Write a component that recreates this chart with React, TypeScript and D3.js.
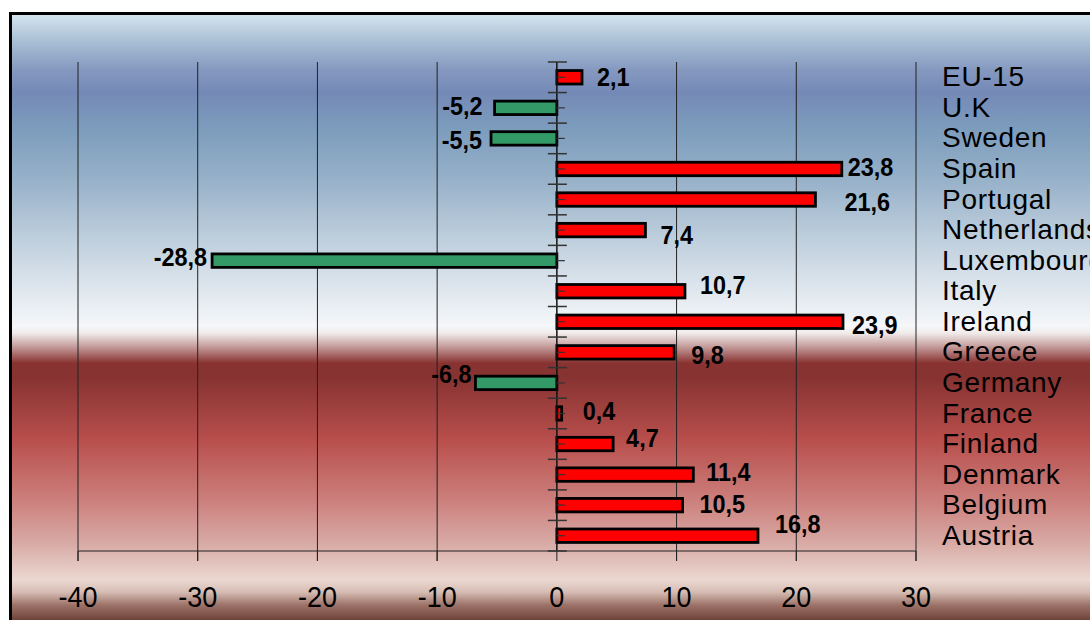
import React from "react";
import * as d3 from "d3";

// Change by country (%), EU-15 and member states
const categories = [
  "EU-15", "U.K", "Sweden", "Spain", "Portugal", "Netherlands", "Luxembourg", "Italy",
  "Ireland", "Greece", "Germany", "France", "Finland", "Denmark", "Belgium", "Austria",
];
const values = [2.1, -5.2, -5.5, 23.8, 21.6, 7.4, -28.8, 10.7, 23.9, 9.8, -6.8, 0.4, 4.7, 11.4, 10.5, 16.8];
const xTicks = [-40, -30, -20, -10, 0, 10, 20, 30];
// hand-placed offsets (px) for the value labels, relative to the bar end / row centre
const labelNudge: [number, number][] = [
  [15, -1], [-12, -2], [-9, 1], [6, -2], [29, 2], [15, 5], [-5, -4], [15, -7],
  [9, 3], [17, 2], [-4, -9], [21, -3], [13, -6], [13, -3], [17, -2], [17, -12],
];

const W = 1090;
const H = 620;
const FONT = "'Liberation Sans', Arial, sans-serif";

const bgStops: [number, string][] = [
  [14, "#d6e5ef"], [40, "#aac1d6"], [70, "#8599c0"], [92, "#7489b6"], [130, "#7d9dbd"],
  [180, "#97b1c9"], [240, "#bfcfdd"], [290, "#dfe7ee"], [326, "#f5f7f9"], [333, "#f1ebeb"],
  [347, "#c39a99"], [363, "#883331"], [378, "#873332"], [440, "#b84f4c"], [500, "#cc7f7c"],
  [545, "#d9aca7"], [580, "#ebd8d1"], [592, "#d6bdb4"], [605, "#9d7369"], [620, "#6e433a"],
];

export default function App() {
  const x = d3.scaleLinear().domain([-40, 30]).range([78, 916]);
  const y = d3.scaleBand<string>().domain(categories).range([62, 551]).paddingInner(0).paddingOuter(0);
  const bw = y.bandwidth();
  const barH = bw * 0.44;
  const fmt = (v: number) => d3.format(".1f")(v).replace(".", ",").replace("\u2212", "-");
  const x0 = x(0);
  const top = y.range()[0];
  const bottom = y.range()[1];
  const boundaries = d3.range(categories.length + 1).map((i) => top + i * bw);

  return (
    <svg
      width={W}
      height={H}
      style={{ position: "fixed", left: 0, top: 0, background: "#fff" }}
      fontFamily={FONT}
    >
      <defs>
        <linearGradient id="bg" gradientUnits="userSpaceOnUse" x1={0} y1={14} x2={0} y2={620}>
          {bgStops.map(([p, c], i) => (
            <stop key={i} offset={(p - 14) / (620 - 14)} stopColor={c} />
          ))}
        </linearGradient>
      </defs>
      <rect x={10.5} y={13.5} width={1200} height={700} fill="url(#bg)" stroke="#000" strokeWidth={3} />

      {/* vertical gridlines */}
      {xTicks.filter((t) => t !== 0).map((t) => (
        <line key={t} x1={x(t)} x2={x(t)} y1={top} y2={bottom + 10} stroke="#222" strokeWidth={1} />
      ))}
      {/* value axis */}
      <line x1={x(-40)} x2={x(30)} y1={bottom} y2={bottom} stroke="#222" strokeWidth={1.2} />
      {xTicks.map((t) => (
        <line key={t} x1={x(t)} x2={x(t)} y1={bottom} y2={bottom + 10} stroke="#222" strokeWidth={1} />
      ))}
      {xTicks.map((t) => (
        <text
          key={t}
          transform={`translate(${x(t)},607) scale(0.9,1)`}
          textAnchor="middle"
          fontSize={30}
          fill="#000"
        >
          {t}
        </text>
      ))}

      {/* bars */}
      {categories.map((c, i) => {
        const v = values[i];
        const cy = (y(c) as number) + bw / 2;
        return (
          <rect
            key={c}
            x={Math.min(x(v), x0)}
            y={cy - barH / 2}
            width={Math.abs(x(v) - x0)}
            height={barH}
            fill={v >= 0 ? "#ff0000" : "#339966"}
            stroke="#000"
            strokeWidth={2.8}
          />
        );
      })}

      {/* category axis at zero */}
      <line x1={x0} x2={x0} y1={top} y2={bottom} stroke="#111" strokeWidth={1.5} />
      {boundaries.map((b, i) => (
        <line key={i} x1={x0 - 9} x2={x0 + 10} y1={b} y2={b} stroke="#333" strokeWidth={1.5} />
      ))}
      {categories.map((c) => {
        const cy = (y(c) as number) + bw / 2;
        return <line key={c} x1={x0} x2={x0 + 8} y1={cy} y2={cy} stroke="#333" strokeWidth={1.2} />;
      })}

      {/* value labels */}
      {categories.map((c, i) => {
        const v = values[i];
        const cy = (y(c) as number) + bw / 2;
        const [dx, dy] = labelNudge[i];
        return (
          <text
            key={c}
            transform={`translate(${x(v) + dx},${cy + dy}) scale(0.9,1)`}
            textAnchor={v >= 0 ? "start" : "end"}
            dy="0.36em"
            fontSize={26}
            fontWeight="bold"
            fill="#000"
          >
            {fmt(v)}
          </text>
        );
      })}

      {/* category names */}
      {categories.map((c) => {
        const cy = (y(c) as number) + bw / 2;
        return (
          <text key={c} x={942} y={cy - 1} dy="0.36em" fontSize={28} letterSpacing={0.7} fill="#000">
            {c}
          </text>
        );
      })}
    </svg>
  );
}
